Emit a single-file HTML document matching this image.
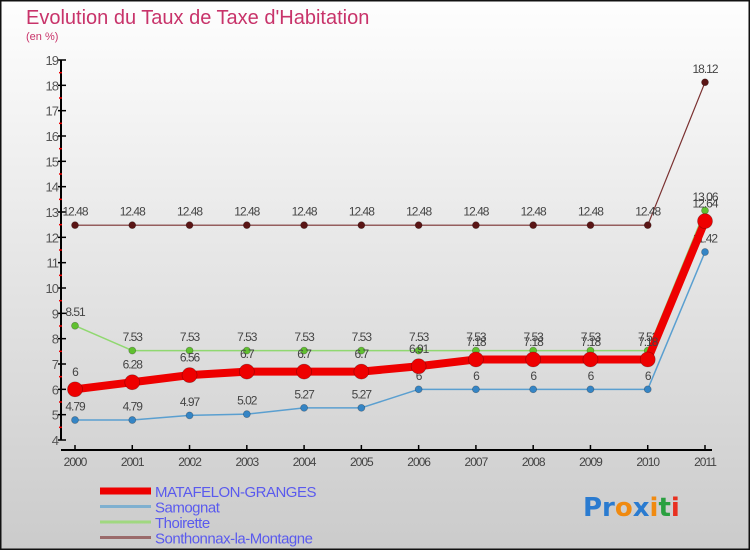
<!DOCTYPE html>
<html><head><meta charset="utf-8"><style>
html,body{margin:0;padding:0}
body{width:750px;height:550px;overflow:hidden;font-family:"Liberation Sans",sans-serif}
</style></head><body>
<svg id="chart" width="750" height="550" xmlns="http://www.w3.org/2000/svg">
<defs><linearGradient id="bg" x1="0" y1="0" x2="0" y2="1"><stop offset="0" stop-color="#fefefe"/><stop offset="1" stop-color="#cbcbcb"/></linearGradient></defs>
<rect x="0.5" y="0.5" width="749" height="549" fill="url(#bg)" stroke="#111" stroke-width="2"/>
<text x="26" y="24" font-size="20" fill="#c8336a">Evolution du Taux de Taxe d'Habitation</text>
<text x="26" y="40" font-size="11" fill="#c8336a">(en %)</text>
<g id="axes"></g><g id="series"></g>
<g id="legend"></g>
<text x="583" y="516" font-size="26" font-weight="bold" font-family="'DejaVu Sans',sans-serif"><tspan fill="#2a7bd0">Pr</tspan><tspan fill="#f08a10">o</tspan><tspan fill="#2a7bd0">x</tspan><tspan fill="#f08a10">i</tspan><tspan fill="#2aa040">t</tspan><tspan fill="#e83020">i</tspan></text>
</svg>
<script>
const years=[2000,2001,2002,2003,2004,2005,2006,2007,2008,2009,2010,2011];
const yTicks=[4,5,6,7,8,9,10,11,12,13,14,15,16,17,18,19];
const matafelon=[6,6.28,6.56,6.7,6.7,6.7,6.91,7.18,7.18,7.18,7.18,12.64];
const samognat=[4.79,4.79,4.97,5.02,5.27,5.27,6,6,6,6,6,11.42];
const thoirette=[8.51,7.53,7.53,7.53,7.53,7.53,7.53,7.53,7.53,7.53,7.53,13.06];
const sonthonnax=[12.48,12.48,12.48,12.48,12.48,12.48,12.48,12.48,12.48,12.48,12.48,18.12];
const NS="http://www.w3.org/2000/svg";
const X=i=>75+i*(630/11);
const Y=v=>440-(v-4)*(380/15);
function mk(p,t,a){const e=document.createElementNS(NS,t);for(const k in a)e.setAttribute(k,a[k]);p.appendChild(e);return e;}
const ax=document.getElementById('axes');
let e=mk(ax,'line',{x1:61,y1:Y(19),x2:61,y2:Y(4),stroke:'#000','stroke-width':2});


e=mk(ax,'line',{x1:61,y1:450,x2:712,y2:450,stroke:'#000','stroke-width':2});


yTicks.forEach((v,i)=>{
  mk(ax,'line',{x1:58,y1:Y(v),x2:66,y2:Y(v),stroke:'#000','stroke-width':1.5});
  if(i<yTicks.length-1)mk(ax,'line',{x1:59,y1:Y(v+0.5),x2:62,y2:Y(v+0.5),stroke:'#e00','stroke-width':1.5});
  const t=mk(ax,'text',{x:58,y:Y(v)+5,'text-anchor':'end','font-size':13,fill:'#555','letter-spacing':'-1'});
  t.textContent=v;
  
  
});
years.forEach((yr,i)=>{
  mk(ax,'line',{x1:X(i),y1:445,x2:X(i),y2:450,stroke:'#000','stroke-width':1.5});
  const t=mk(ax,'text',{x:X(i),y:466,'text-anchor':'middle','font-size':12,fill:'#444','letter-spacing':'-1'});
  t.textContent=yr;
  
  
});
const sg=document.getElementById('series');
const series=[
 {name:'sonthonnax',d:sonthonnax,c:'#7a3030',pc:'#5a1515',w:1.2,r:3.5},
 {name:'thoirette',d:thoirette,c:'#90d870',pc:'#60c030',w:1.5,r:3.5},
 {name:'samognat',d:samognat,c:'#5a9fd0',pc:'#3585c5',w:1.5,r:3.5},
 {name:'matafelon',d:matafelon,c:'#ee0000',pc:'#ee0000',w:8,r:7.5}
];
series.forEach(s=>{
  const g=mk(sg,'g',{});
  
  
  const pl=mk(g,'polyline',{points:s.d.map((v,i)=>X(i)+','+Y(v)).join(' '),fill:'none',stroke:s.c,'stroke-width':s.w,'stroke-linejoin':'round'});
  
  
  s.d.forEach((v,i)=>{
    const c=mk(g,'circle',{cx:X(i),cy:Y(v),r:s.r,fill:s.pc,stroke:'rgba(0,0,0,0.3)','stroke-width':0.7});
    
    
    const t=mk(g,'text',{x:X(i),y:Y(v)-(s.r+6),'text-anchor':'middle','font-size':12,fill:'#444','letter-spacing':'-1'});
    t.textContent=String(v);
    
    
  });
});
const lg=document.getElementById('legend');
const legNames=['MATAFELON-GRANGES','Samognat','Thoirette','Sonthonnax-la-Montagne'];
const legColors=['#ee0000','#7fb0d0','#a0d880','#9a6a6a'];
const legW=[7,3,3,3];
legNames.forEach((n,i)=>{
  const y=491+i*15.5;
  const l=mk(lg,'line',{x1:100,y1:y,x2:151,y2:y,stroke:legColors[i],'stroke-width':legW[i]});
  
  
  const t=mk(lg,'text',{x:155,y:y+6,'font-size':15,fill:'#5a5aee','letter-spacing':'-0.5'});
  t.textContent=n;
  
  
});
</script>
</body></html>
